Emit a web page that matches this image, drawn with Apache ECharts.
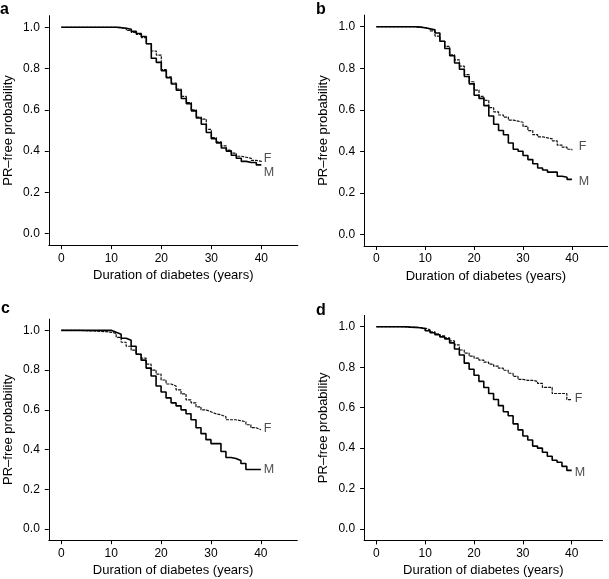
<!DOCTYPE html>
<html>
<head>
<meta charset="utf-8">
<script src="https://cdn.jsdelivr.net/npm/echarts@6/dist/echarts.min.js"></script>
<style>
html,body{margin:0;padding:0;background:#fff;}
#c{width:609px;height:579px;}
</style>
</head>
<body>
<div id="c"></div>
<script>
// ---- data ----
const years = [0,1,2,3,4,5,6,7,8,9,10,11,12,13,14,15,16,17,18,19,20,21,22,23,24,25,26,27,28,29,30,31,32,33,34,35,36,37,38,39,40];

const aM = [1,1,1,1,1,1,1,1,1,1,1,0.998,0.995,0.99,0.98,0.97,0.955,0.92,0.85,0.83,0.79,0.755,0.725,0.695,0.655,0.63,0.595,0.56,0.53,0.49,0.46,0.44,0.415,0.40,0.38,0.365,0.35,0.345,0.345,0.333,0.333];
const aF = [1,1,1,1,1,1,1,1,1,1,1,0.998,0.995,0.985,0.975,0.965,0.95,0.92,0.885,0.865,0.795,0.76,0.73,0.70,0.665,0.635,0.60,0.565,0.555,0.505,0.465,0.445,0.425,0.405,0.39,0.375,0.37,0.365,0.355,0.35,0.345];

const bM = [1,1,1,1,1,1,1,1,0.998,0.995,0.99,0.985,0.97,0.93,0.895,0.86,0.825,0.795,0.76,0.725,0.67,0.655,0.62,0.57,0.53,0.50,0.48,0.44,0.41,0.40,0.38,0.36,0.34,0.32,0.31,0.30,0.30,0.28,0.275,0.265,0.265];
const bF = [1,1,1,1,1,1,1,1,0.998,0.995,0.99,0.98,0.955,0.93,0.905,0.865,0.84,0.81,0.77,0.735,0.695,0.665,0.645,0.61,0.59,0.575,0.565,0.55,0.545,0.54,0.52,0.50,0.48,0.47,0.465,0.46,0.45,0.43,0.42,0.41,0.405];

const cM = [1,1,1,1,1,1,1,1,1,1,0.99,0.98,0.96,0.95,0.92,0.88,0.85,0.81,0.77,0.72,0.69,0.66,0.635,0.62,0.60,0.58,0.55,0.51,0.48,0.45,0.43,0.43,0.39,0.36,0.355,0.345,0.33,0.30,0.30,0.30,0.30];
const cF = [1,1,1,1,0.998,0.997,0.996,0.995,0.993,0.99,0.985,0.965,0.94,0.92,0.90,0.88,0.86,0.83,0.80,0.78,0.75,0.73,0.72,0.70,0.68,0.65,0.635,0.615,0.60,0.59,0.58,0.575,0.565,0.55,0.55,0.545,0.54,0.525,0.51,0.50,0.50];

const dM = [1,1,1,1,1,1,0.998,0.997,0.995,0.99,0.98,0.97,0.96,0.95,0.94,0.92,0.89,0.86,0.82,0.79,0.76,0.73,0.70,0.67,0.64,0.61,0.58,0.56,0.52,0.49,0.46,0.44,0.41,0.40,0.38,0.36,0.34,0.33,0.31,0.29,0.29];
const dF = [1,1,1,1,1,0.999,0.998,0.997,0.996,0.993,0.985,0.975,0.965,0.955,0.945,0.93,0.91,0.885,0.87,0.855,0.845,0.835,0.825,0.815,0.805,0.795,0.785,0.77,0.755,0.74,0.735,0.735,0.73,0.72,0.70,0.70,0.67,0.67,0.67,0.64,0.64];

const panelLetters = ['a','b','c','d'];
const groupNames = ['F','M'];
// label anchor positions [duration, probability] for F and M per panel
const labelPosF = [[40.4,0.362],[41.3,0.422],[40.5,0.506],[40.5,0.646]];
const labelPosM = [[40.4,0.297],[41.3,0.254],[40.5,0.297],[40.5,0.279]];

const xTicks = [0,10,20,30,40];
const yTicks = [0,0.2,0.4,0.6,0.8,1.0];
const xTitle = 'Duration of diabetes (years)';
const yTitle = 'PR\u2013free probability';

// ---- build ----
const seriesM = [aM,bM,cM,dM];
const seriesF = [aF,bF,cF,dF];
function pairs(vals){ return years.map((t,i)=>[t, vals[i]]); }

const grids = [
  {left:48.8, top:15.7, width:249, height:229.5},
  {left:364.1, top:15.1, width:243.5, height:230.9},
  {left:48.8, top:319.2, width:248.5, height:221},
  {left:364.1, top:315.4, width:238.4, height:225}
];
const xMax = [47.3, 47.3, 47.3, 46.3];
const font = 'Liberation Sans, Arial, Helvetica, sans-serif';

const xAxes = [], yAxes = [], series = [];
for (let i=0;i<4;i++){
  xAxes.push({
    type:'value', gridIndex:i, min:-2.5, max:xMax[i],
    axisLine:{show:true, onZero:false, lineStyle:{color:'#000', width:1}},
    axisTick:{show:true, customValues:xTicks, length:4, lineStyle:{color:'#000', width:1}},
    axisLabel:{customValues:xTicks, color:'#000', fontSize:12, fontFamily:font, margin:7},
    splitLine:{show:false},
    name:xTitle, nameLocation:'middle', nameGap:24,
    nameTextStyle:{color:'#000', fontSize:13, fontFamily:font}
  });
  yAxes.push({
    type:'value', gridIndex:i, min:-0.056, max:1.056,
    axisLine:{show:true, onZero:false, lineStyle:{color:'#000', width:1}},
    axisTick:{show:true, customValues:yTicks, length:4, lineStyle:{color:'#000', width:1}},
    axisLabel:{customValues:yTicks, color:'#000', fontSize:12, fontFamily:font, margin:9,
      formatter:v=>Number(v).toFixed(1)},
    splitLine:{show:false},
    name:yTitle, nameLocation:'middle', nameGap:34, nameRotate:90,
    nameTextStyle:{color:'#000', fontSize:13, fontFamily:font}
  });
  series.push({
    type:'line', xAxisIndex:i, yAxisIndex:i, step:'end', symbol:'none',
    data:pairs(seriesF[i]), lineStyle:{color:'#111', width:1.2, type:[3,1]}, z:2
  });
  series.push({
    type:'line', xAxisIndex:i, yAxisIndex:i, step:'end', symbol:'none',
    data:pairs(seriesM[i]), lineStyle:{color:'#000', width:1.6}, z:3
  });
  series.push({
    type:'scatter', xAxisIndex:i, yAxisIndex:i, symbolSize:1,
    itemStyle:{color:'rgba(0,0,0,0)'},
    data:[{name:groupNames[0], value:labelPosF[i]},{name:groupNames[1], value:labelPosM[i]}],
    label:{show:true, formatter:p=>p.name, position:'right', distance:0,
      color:'#222', fontSize:12.5, fontFamily:font}
  });
}

const letterPos = [[0,14],[316,14],[1,313],[316,315]];
const graphic = panelLetters.map((l,i)=>({
  type:'text', left:letterPos[i][0], top:letterPos[i][1]-12,
  style:{text:l, font:'bold 16px '+font, fill:'#000'}
}));

const chart = echarts.init(document.getElementById('c'), null, {renderer:'canvas'});
chart.setOption({
  animation:false,
  backgroundColor:'#fff',
  grid:grids, xAxis:xAxes, yAxis:yAxes, series:series, graphic:graphic
});
</script>
</body>
</html>
